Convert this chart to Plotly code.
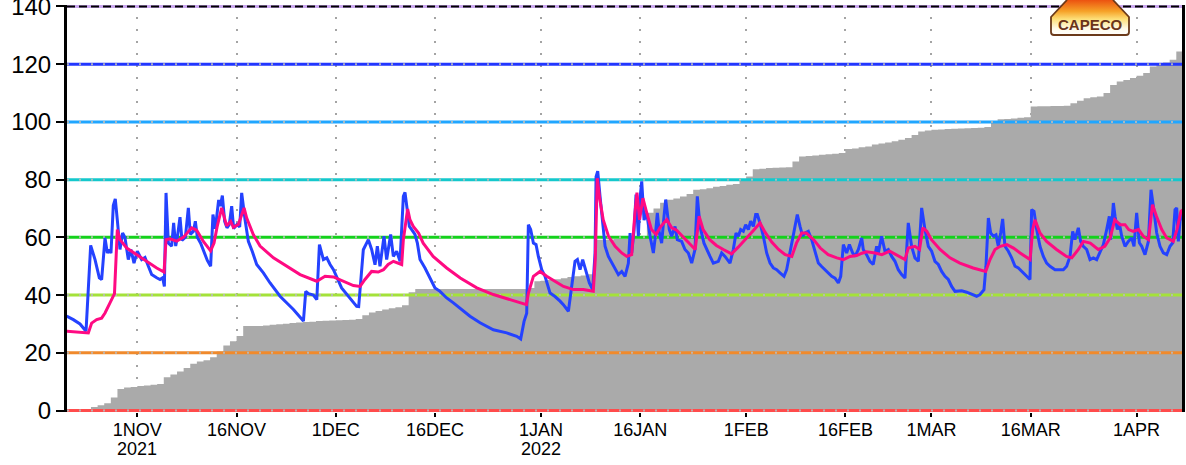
import base64

import pandas as pd
import plotly.graph_objects as go

# ---------------------------------------------------------------------------
# Data
# ---------------------------------------------------------------------------

ORIGIN = "2021-11-01"          # line times below are days after this date
X_START, X_END = "2021-10-21 09:00", "2022-04-07 20:40"

tick_dates = ["2021-11-01", "2021-11-16", "2021-12-01", "2021-12-16", "2022-01-01",
              "2022-01-16", "2022-02-01", "2022-02-16", "2022-03-01", "2022-03-16",
              "2022-04-01"]
tick_text = ["1NOV", "16NOV", "1DEC", "16DEC", "1JAN", "16JAN", "1FEB", "16FEB",
             "1MAR", "16MAR", "1APR"]
year_dates = ["2021-11-01", "2022-01-01"]
year_text = ["2021", "2022"]

levels = [0, 20, 40, 60, 80, 100, 120, 140]
level_colors = ["#ff4c4c", "#f08a2c", "#a4e23a", "#14d21c", "#14c8cc", "#20a6ff",
                "#2236ff", "#cba8f0"]

# accumulated amount, one value per day from 21 Oct 2021
gray_start = "2021-10-21"
gray_vals = [
    0, 0, 0, 0, 1.2, 1.8, 2.5, 4.5, 7.5, 8.0,
    8.2, 8.5, 8.7, 8.9, 9.2, 11.5, 12.5, 13.5, 14.7, 16.2,
    17.0, 17.4, 18.5, 20.5, 22.5, 24.0, 25.8, 29.3, 29.3, 29.3,
    29.5, 29.7, 29.9, 30.1, 30.3, 30.5, 30.7, 30.8, 31.0, 31.1,
    31.2, 31.3, 31.4, 31.5, 31.7, 33.0, 34.0, 34.5, 35.0, 35.4,
    35.8, 36.5, 41.0, 42.1, 42.1, 42.1, 42.1, 42.1, 42.1, 42.1,
    42.1, 42.1, 42.1, 42.1, 42.1, 42.1, 42.1, 42.1, 42.1, 42.1,
    42.5, 44.8, 45.0, 45.2, 45.5, 45.8, 46.3, 46.5, 46.8, 47.2,
    59.2, 59.2, 59.3, 59.4, 59.5, 59.6, 59.7, 59.8, 68.5, 70.0,
    72.0, 73.0, 73.5, 74.2, 75.0, 76.5, 76.7, 77.0, 77.5, 77.8,
    78.2, 78.5, 80.0, 81.1, 83.6, 83.8, 84.0, 84.1, 84.2, 84.3,
    86.3, 88.0, 88.2, 88.4, 88.6, 88.8, 89.0, 89.2, 90.6, 90.8,
    91.2, 91.5, 92.2, 92.5, 92.9, 93.3, 93.8, 94.4, 95.5, 96.7,
    97.0, 97.3, 97.4, 97.5, 97.6, 97.7, 97.8, 97.9, 98.0, 98.2,
    99.6, 100.9, 101.0, 101.2, 101.4, 101.6, 105.3, 105.4, 105.4, 105.5,
    105.5, 105.6, 106.5, 107.3, 108.2, 108.5, 108.8, 110.0, 112.8, 114.0,
    114.5, 115.2, 116.0, 116.9, 119.2, 119.8, 120.6, 121.5, 124.4,
]

blue_t = [
    -10.68, -9.67, -8.66, -7.75, -7.05, -6.39, -5.74, -5.39, -4.88, -4.53,
    -4.23, -3.98, -3.63, -3.33, -3.02, -2.62, -2.22, -1.87, -1.36, -0.96,
    -0.5, 0.0, 0.66, 1.16, 1.67, 2.17, 2.93, 3.43, 3.83, 4.09,
    4.34, 4.69, 5.19, 5.49, 5.8, 6.05, 6.45, 6.75, 7.26, 7.71,
    8.01, 8.47, 8.77, 9.07, 9.57, 10.08, 10.58, 11.08, 11.43, 11.79,
    12.29, 12.54, 12.85, 13.2, 13.55, 13.9, 14.26, 14.56, 15.06, 15.47,
    15.77, 16.28, 16.78, 17.39, 18.04, 19.05, 20.06, 21.57, 23.59, 25.1,
    25.45, 25.86, 26.61, 27.12, 27.52, 28.12, 28.63, 29.13, 29.64, 30.87,
    32.14, 33.15, 33.45, 34.15, 34.91, 35.41, 35.92, 36.27, 36.67, 37.28,
    37.68, 38.28, 38.69, 39.19, 39.7, 40.2, 40.45, 40.7, 41.11, 41.46,
    41.96, 42.32, 42.72, 43.47, 44.23, 44.98, 45.74, 46.75, 47.76, 48.76,
    50.27, 51.79, 53.8, 55.82, 57.33, 57.93, 58.44, 58.84, 59.09, 59.44,
    59.85, 60.25, 60.6, 61.11, 61.61, 62.37, 63.12, 63.88, 64.38, 65.14,
    65.64, 66.14, 66.5, 66.9, 67.3, 67.81, 68.31, 68.81, 69.17, 69.32,
    69.57, 69.92, 70.33, 70.68, 71.18, 71.69, 72.19, 72.69, 73.2, 73.7,
    74.2, 74.46, 74.71, 75.06, 75.36, 75.71, 75.97, 76.22, 76.57, 76.98,
    77.48, 77.98, 78.22, 78.58, 78.88, 79.23, 79.59, 79.84, 80.09, 80.39,
    80.74, 81.25, 81.6, 82.25, 82.76, 83.26, 83.77, 84.27, 84.62, 85.03,
    85.63, 86.03, 86.54, 87.04, 87.8, 88.3, 88.8, 89.56, 90.06, 90.47,
    90.82, 91.17, 91.57, 91.93, 92.33, 92.68, 93.09, 93.44, 93.69, 94.09,
    94.6, 95.1, 95.61, 96.11, 96.61, 97.12, 97.72, 98.12, 98.63, 99.23,
    99.73, 100.14, 100.54, 100.89, 101.4, 101.9, 102.41, 102.91, 103.41, 103.92,
    104.42, 104.93, 105.43, 105.93, 106.29, 106.69, 107.19, 107.6, 108.1, 108.45,
    108.96, 109.46, 109.7, 110.2, 110.7, 111.2, 111.72, 111.97, 112.47, 112.98,
    113.48, 113.99, 114.49, 114.99, 115.5, 116.0, 116.5, 117.0, 117.51, 118.02,
    118.52, 119.02, 119.53, 120.03, 120.53, 121.04, 121.54, 122.05, 122.55, 123.05,
    123.56, 124.06, 124.57, 125.32, 126.08, 126.83, 127.34, 127.94, 128.24, 128.6,
    128.95, 129.35, 129.75, 130.1, 130.46, 130.76, 131.11, 131.62, 132.12, 132.63,
    133.13, 133.89, 134.39, 134.89, 135.14, 135.5, 135.9, 136.4, 136.91, 137.41,
    137.92, 138.67, 139.43, 139.93, 140.43, 140.94, 141.34, 141.69, 142.2, 142.55,
    142.95, 143.46, 143.96, 144.46, 144.97, 145.47, 145.98, 146.48, 146.88, 147.08,
    147.49, 147.74, 148.09, 148.39, 148.75, 149.25, 149.75, 150.26, 150.61, 151.01,
    151.42, 151.77, 152.27, 152.78, 153.18, 153.53, 154.04, 154.54, 155.04, 155.55,
    156.05, 156.45, 156.81, 157.06, 157.31, 157.66, 158.0,
]
blue_v = [
    32.7, 31.5, 30.0, 27.5, 57.2, 52.3, 46.0, 45.4, 59.8, 54.6,
    55.8, 54.5, 71.0, 73.3, 66.0, 55.8, 61.5, 60.0, 52.3, 55.8,
    51.1, 55.2, 52.3, 53.0, 50.0, 47.1, 46.0, 45.4, 46.0, 43.0,
    75.4, 58.0, 57.0, 65.0, 57.0, 60.0, 67.0, 59.0, 60.0, 70.2,
    61.0, 62.0, 65.6, 60.0, 58.0, 54.6, 52.0, 50.0, 67.9, 63.0,
    73.0, 70.8, 74.5, 65.5, 63.3, 64.5, 70.8, 63.0, 64.5, 63.6,
    75.4, 66.1, 58.6, 55.0, 50.6, 47.7, 44.2, 39.6, 35.0, 31.0,
    41.3, 40.5, 40.0, 38.4, 57.5, 52.3, 52.9, 50.6, 48.8, 42.5,
    38.8, 36.1, 36.0, 55.7, 59.2, 55.8, 50.5, 56.9, 50.0, 60.4,
    52.3, 61.0, 53.4, 55.2, 51.7, 74.2, 75.6, 70.8, 63.8, 62.7,
    61.0, 58.0, 52.3, 49.4, 45.9, 42.5, 41.3, 39.0, 37.3, 35.5,
    32.7, 30.4, 28.0, 26.9, 25.7, 24.8, 30.9, 33.7, 64.4, 62.7,
    58.0, 57.5, 53.4, 48.8, 46.5, 40.7, 39.5, 37.9, 36.7, 34.4,
    43.0, 51.7, 52.3, 48.8, 52.3, 47.7, 44.2, 41.9, 54.6, 81.0,
    82.9, 74.2, 63.8, 56.9, 53.4, 51.1, 49.4, 47.1, 48.2, 46.5,
    51.0, 61.5, 54.6, 62.3, 74.8, 60.4, 73.6, 79.4, 66.0, 68.4,
    60.4, 54.6, 59.2, 68.5, 61.5, 58.0, 67.3, 73.1, 68.5, 62.7,
    60.4, 63.8, 59.2, 58.6, 55.8, 54.6, 51.1, 55.8, 74.2, 63.8,
    58.0, 55.8, 53.4, 51.1, 51.7, 54.6, 53.4, 51.1, 55.8, 61.5,
    60.4, 62.7, 62.1, 64.4, 62.7, 65.6, 63.8, 67.9, 67.9, 65.0,
    60.4, 54.6, 51.1, 49.4, 48.8, 47.7, 46.5, 48.8, 54.6, 62.7,
    67.9, 63.8, 60.4, 61.5, 62.1, 59.2, 54.6, 51.1, 49.9, 48.8,
    47.7, 46.5, 45.9, 44.2, 46.5, 57.5, 54.6, 57.5, 54.6, 53.4,
    55.8, 59.8, 55.8, 54.0, 51.7, 50.6, 56.9, 54.6, 60.4, 55.2,
    55.8, 53.4, 51.7, 48.8, 47.1, 45.9, 65.0, 56.9, 52.9, 51.7,
    70.2, 62.7, 56.9, 55.2, 51.7, 50.6, 48.2, 46.5, 45.4, 43.0,
    41.3, 41.3, 41.5, 41.0, 40.2, 39.6, 40.2, 41.9, 50.0, 66.7,
    61.5, 60.4, 60.9, 56.9, 61.5, 66.4, 56.9, 55.2, 52.9, 50.0,
    49.4, 47.7, 46.5, 45.4, 69.6, 69.0, 62.7, 56.9, 53.4, 51.1,
    50.0, 48.8, 48.8, 48.8, 50.0, 53.4, 62.1, 59.2, 63.3, 58.6,
    56.9, 55.8, 52.3, 52.9, 52.3, 55.2, 57.5, 62.7, 67.3, 59.2,
    71.9, 67.3, 62.7, 65.0, 60.4, 56.9, 58.6, 59.8, 56.9, 68.5,
    58.1, 56.9, 54.0, 58.6, 76.5, 70.8, 61.5, 56.9, 54.6, 54.0,
    56.9, 58.1, 69.6, 70.2, 58.6, 68.5, 66.0,
]

pink_t = [
    -10.68, -8.66, -7.4, -6.9, -6.14, -5.39, -4.88, -4.13, -3.62, -3.45,
    -3.02, -2.62, -1.6, -0.1, 1.41, 2.93, 4.04, 4.34, 4.94, 5.95,
    6.95, 8.21, 8.97, 9.98, 11.08, 11.59, 12.09, 12.75, 13.5, 14.11,
    14.51, 15.27, 16.13, 16.53, 17.54, 18.55, 20.57, 22.58, 24.6, 27.12,
    27.62, 28.37, 29.63, 31.14, 32.65, 33.66, 34.4, 35.4, 36.4, 37.2,
    37.9, 38.7, 39.4, 39.95, 40.2, 40.85, 41.2, 41.7, 42.5, 43.2,
    44.7, 46.75, 48.8, 51.3, 53.8, 56.3, 58.8, 59.1, 59.85, 60.85,
    61.86, 63.1, 64.4, 65.9, 67.4, 68.9, 69.2, 69.5, 69.9, 70.4,
    71.2, 72.2, 73.2, 73.95, 74.7, 75.2, 75.5, 75.9, 76.4, 76.98,
    77.7, 78.4, 79.0, 80.0, 80.75, 81.5, 82.5, 83.5, 84.3, 84.9,
    85.5, 86.5, 87.5, 88.55, 89.8, 90.8, 92.1, 93.1, 94.1, 94.85,
    95.9, 96.9, 97.9, 98.9, 99.6, 100.4, 101.1, 102.2, 103.2, 104.4,
    105.7, 106.7, 107.7, 108.7, 109.5, 110.2, 111.5, 112.5, 113.7, 115.0,
    116.0, 116.5, 117.5, 118.2, 118.7, 119.3, 120.0, 121.3, 122.8, 124.3,
    126.3, 128.2, 128.85, 129.6, 130.4, 131.4, 132.4, 133.4, 134.9, 135.3,
    135.65, 136.4, 137.4, 138.9, 140.4, 141.2, 142.2, 142.95, 144.0, 145.2,
    146.2, 147.0, 147.7, 148.5, 149.25, 149.8, 150.5, 151.3, 152.0, 152.8,
    153.4, 154.0, 154.8, 155.55, 156.55, 157.1, 157.7, 158.0,
]
pink_v = [
    27.5, 27.2, 26.9, 30.3, 31.5, 32.0, 33.8, 37.3, 39.6, 40.5,
    62.7, 59.2, 56.3, 54.0, 51.7, 49.4, 48.0, 59.2, 59.5, 58.7,
    60.0, 63.3, 62.5, 58.6, 55.3, 58.0, 64.0, 70.2, 64.0, 65.5,
    63.5, 64.5, 70.2, 66.7, 60.9, 57.0, 52.9, 50.0, 47.1, 44.8,
    45.5, 46.5, 46.3, 44.8, 43.3, 43.0, 45.4, 48.2, 48.0, 48.8,
    50.6, 51.7, 51.2, 50.6, 59.2, 69.8, 66.1, 63.8, 61.5, 58.0,
    53.4, 49.4, 45.9, 42.5, 40.2, 38.4, 36.7, 40.7, 46.5, 48.2,
    46.5, 44.8, 43.0, 41.9, 41.9, 41.3, 52.3, 80.5, 73.0, 66.1,
    60.4, 56.9, 54.6, 53.4, 54.0, 68.5, 75.5, 66.1, 73.6, 68.5,
    62.7, 61.0, 63.5, 66.2, 63.3, 62.5, 60.1, 57.5, 55.8, 67.3,
    62.7, 59.2, 57.2, 55.8, 54.3, 56.6, 60.1, 62.4, 65.0, 61.8,
    58.3, 55.8, 54.0, 53.4, 58.0, 61.5, 61.5, 59.2, 56.3, 54.0,
    52.9, 52.3, 53.4, 53.7, 54.5, 55.0, 54.6, 54.0, 55.2, 53.4,
    52.3, 56.3, 56.9, 55.8, 63.3, 62.1, 59.2, 55.8, 52.9, 51.1,
    49.4, 48.2, 52.3, 55.8, 56.9, 57.5, 56.3, 54.6, 52.3, 62.7,
    66.1, 61.5, 58.6, 55.8, 53.4, 52.9, 55.8, 58.6, 58.0, 55.8,
    56.9, 59.8, 66.1, 64.4, 64.4, 62.7, 62.1, 62.7, 60.4, 59.2,
    71.3, 67.3, 62.7, 59.8, 58.6, 62.7, 69.0, 69.5,
]


def _dates(days):
    return pd.Timestamp(ORIGIN) + pd.to_timedelta(days, unit="D")


# ---------------------------------------------------------------------------
# Figure
# ---------------------------------------------------------------------------

W, H = 1186, 465
ML, MR, MT, MB = 67, 4, 5, 53
PW, PH = W - ML - MR, H - MT - MB

fig = go.Figure()

gray_x = pd.date_range(gray_start, periods=len(gray_vals) + 1, freq="D")
fig.add_trace(go.Scatter(
    x=gray_x, y=gray_vals + [gray_vals[-1]],
    mode="lines", line=dict(width=0, shape="hv"),
    fill="tozeroy", fillcolor="#aaaaaa", hoverinfo="skip",
))

for lvl, col in zip(levels, level_colors):
    fig.add_trace(go.Scatter(
        x=[X_START, X_END], y=[lvl, lvl], mode="lines",
        line=dict(color=col, width=3), hoverinfo="skip",
    ))
    if lvl == levels[-1]:
        over = dict(color="black", width=2, dash="8px,4px")
    else:
        over = dict(color="rgba(185,185,185,0.9)", width=2, dash="2px,10px")
    fig.add_trace(go.Scatter(
        x=[X_START, X_END], y=[lvl, lvl], mode="lines", line=over, hoverinfo="skip",
    ))

fig.add_trace(go.Scatter(
    x=_dates(blue_t), y=blue_v, mode="lines",
    line=dict(color="#2442ff", width=3),
))
fig.add_trace(go.Scatter(
    x=_dates(pink_t), y=pink_v, mode="lines",
    line=dict(color="#ff0a82", width=3),
))

# CAPECO badge
badge_svg = (
    '<svg xmlns="http://www.w3.org/2000/svg" width="80" height="36" viewBox="0 0 80 36">'
    '<defs><linearGradient id="g" x1="0" y1="0" x2="0" y2="1">'
    '<stop offset="0" stop-color="#ec5210"/><stop offset="0.32" stop-color="#f6a228"/>'
    '<stop offset="0.55" stop-color="#fde07a"/><stop offset="0.82" stop-color="#fffbea"/>'
    '<stop offset="1" stop-color="#ffffff"/></linearGradient></defs>'
    '<path d="M1,17 L17,0 L63,0 L79,17 L79,32 Q79,35 76,35 L4,35 Q1,35 1,32 Z" fill="url(#g)"/>'
    '<path d="M17,0 L1,17 L1,32 Q1,35 4,35 L76,35 Q79,35 79,32 L79,17 L63,0" fill="none" '
    'stroke="#6b3a1a" stroke-width="1.8"/></svg>'
)
badge_src = "data:image/svg+xml;base64," + base64.b64encode(badge_svg.encode()).decode()

fig.add_layout_image(dict(
    source=badge_src, xref="paper", yref="paper",
    x=(1050 - ML) / PW, y=1 + MT / PH, sizex=80 / PW, sizey=36 / PH,
    xanchor="left", yanchor="top", sizing="stretch", layer="above",
))
fig.add_annotation(
    x=(1090 - ML) / PW, y=1 - (24 - MT) / PH, xref="paper", yref="paper",
    text="<b>CAPECO</b>", showarrow=False, xanchor="center", yanchor="middle",
    font=dict(family="Liberation Sans", size=15, color="#6b3419"),
)

for d, t in zip(year_dates, year_text):
    fig.add_annotation(
        x=d, y=-(449 - MT - PH) / PH, xref="x", yref="paper",
        text=t, showarrow=False, xanchor="center", yanchor="middle",
        font=dict(family="Liberation Sans", size=18, color="black"),
        borderpad=0,
    )

fig.update_layout(
    width=W, height=H,
    margin=dict(l=ML, r=MR, t=MT, b=MB, autoexpand=False),
    paper_bgcolor="white", plot_bgcolor="white",
    showlegend=False,
    xaxis=dict(
        type="date", range=[X_START, X_END], automargin=False,
        tickvals=tick_dates, ticktext=tick_text,
        ticks="outside", ticklen=4, tickwidth=1.5, tickcolor="black",
        ticklabelstandoff=-3,
        showgrid=True, gridcolor="#a4a4a4", gridwidth=2, griddash="2px,10px",
        showline=False, zeroline=False,
        tickfont=dict(family="Liberation Sans", size=18, color="black"),
    ),
    yaxis=dict(
        range=[-0.5, 140.5], tickvals=levels, automargin=False,
        ticklabeloverflow="allow",
        ticks="outside", ticklen=8, tickwidth=1.5, tickcolor="black",
        showgrid=False, zeroline=False,
        showline=True, linewidth=3, linecolor="black", mirror=True,
        tickfont=dict(family="Liberation Sans", size=24, color="black"),
    ),
)

# the page's default 8px body margin would shift the whole figure
fig.write_html(
    "out.html",
    config={"displayModeBar": False},
    post_script="document.body.style.margin = '0';",
)
